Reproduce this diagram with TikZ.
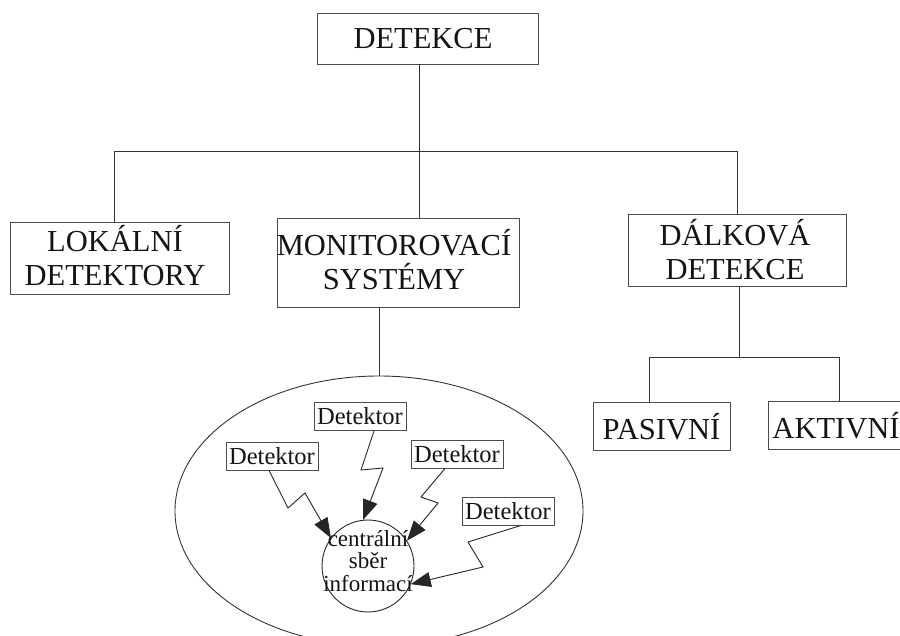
\documentclass[tikz,border=0pt]{standalone}
\usepackage{fontspec}
\setmainfont{Liberation Serif}
\usetikzlibrary{arrows.meta,shapes.geometric}
\begin{document}
\begin{tikzpicture}[x=1pt,y=-1pt, line width=0.9pt,
  boxframe/.style={draw=black!70, inner sep=0pt},
  bigtext/.style={inner sep=0pt, align=center, font=\fontsize{30.5}{34}\selectfont, text=black!92},
  detbox/.style={draw=black!70, inner sep=0pt, font=\fontsize{24.5}{26}\selectfont, text=black!92, minimum width=92pt, minimum height=28pt},
  tree/.style={draw=black!80},
  bolt/.style={draw=black!85, -{Triangle[length=20pt,width=15pt]}}]
\useasboundingbox (0,0) rectangle (900,636);
\clip (0,0) rectangle (900,636);

% main boxes
\node[boxframe, minimum width=221pt, minimum height=51pt] (top) at (427.5,38.5) {};
\node[bigtext] (topt) at (423,38.5) {DETEKCE};
\node[boxframe, minimum width=219pt, minimum height=72pt] (lok) at (119.5,258) {};
\node[bigtext] (lokt) at (115,256) {LOKÁLNÍ\\DETEKTORY};
\node[boxframe, minimum width=242pt, minimum height=89pt] (mon) at (398,262.5) {};
\node[bigtext] (mont) at (394,260) {MONITOROVACÍ\\SYSTÉMY};
\node[boxframe, minimum width=218pt, minimum height=72pt] (dal) at (737,250) {};
\node[bigtext] (dalt) at (735,250) {DÁLKOVÁ\\DETEKCE};
\node[boxframe, minimum width=137pt, minimum height=48pt] (pas) at (661.5,426) {};
\node[bigtext] (past) at (661.5,427) {PASIVNÍ};
\node[boxframe, minimum width=142pt, minimum height=48pt] (akt) at (839,425) {};
\node[bigtext] (aktt) at (836,426) {AKTIVNÍ};

% tree connectors
\coordinate (jl) at (114,151);
\coordinate (jm) at (419,151);
\coordinate (jr) at (737,151);
\draw[tree] (top.south -| jm) -- (jm);
\draw[tree] (jl) -- (jr);
\draw[tree] (jl) -- (jl |- lok.north);
\draw[tree] (jm) -- (jm |- mon.north);
\draw[tree] (jr) -- (jr |- dal.north);

\coordinate (kr) at (739,357);
\coordinate (kl) at (649,357);
\coordinate (kk) at (839,357);
\draw[tree] (dal.south -| kr) -- (kr);
\draw[tree] (kl) -- (kk);
\draw[tree] (kl) -- (kl |- pas.north);
\draw[tree] (kk) -- (kk |- akt.north);

% monitoring ellipse
\node[ellipse, draw=black!80, minimum width=408pt, minimum height=270pt, inner sep=0pt] (ell) at (379,511) {};
\draw[tree] (mon.south -| ell.north) -- (ell.north);

% central collection
\node[circle, draw=black!85, minimum size=92pt, inner sep=0pt] (cs) at (368,566) {};
\node[align=center, inner sep=0pt, font=\fontsize{23}{22.5}\selectfont, text=black!92] (cst) at (368,561) {centrální\\sběr\\informací};

% detectors
\node[detbox] (dA) at (272,456) {Detektor};
\node[detbox] (dB) at (360,416.5) {Detektor};
\node[detbox] (dC) at (457,454) {Detektor};
\node[detbox] (dD) at (508,511) {Detektor};

% lightning connectors
\draw[bolt] ([xshift=-3pt]dA.south) -- (288,508) -- (305,493) -- (cs.143.6);
\draw[bolt] ([xshift=14pt]dB.south) -- (361,470) -- (383,468) -- (cs.96);
\draw[bolt] ([xshift=-12pt]dC.south) -- (421,497) -- (438,503) -- (cs.33);
\draw[bolt] ([xshift=13pt]dD.south) -- (468,542) -- (483,567) -- (cs.-23);
\end{tikzpicture}
\end{document}
